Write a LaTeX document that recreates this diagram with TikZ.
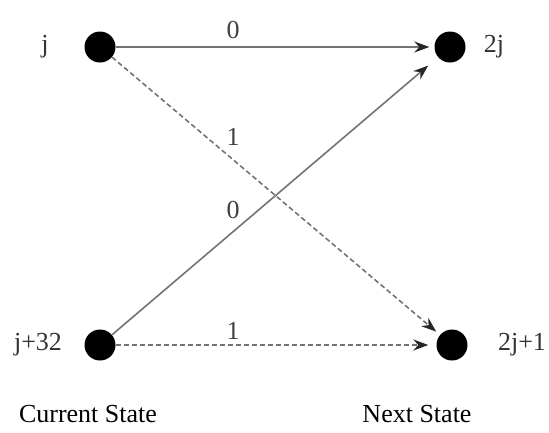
\documentclass[tikz,border=0pt]{standalone}
\usepackage{fontspec}
\setmainfont{Liberation Serif}
\usetikzlibrary{arrows.meta}
\begin{document}
\begin{tikzpicture}[x=1pt,y=-1pt,
  dot/.style={circle,fill=black,inner sep=0pt,minimum size=31pt},
  lbl/.style={font=\fontsize{26}{28}\selectfont,text=black!80,inner sep=0pt},
  elbl/.style={font=\fontsize{26}{28}\selectfont,text=black!75,inner sep=0pt},
  captiontext/.style={font=\fontsize{26}{30}\selectfont,inner sep=0pt},
  solidedge/.style={draw=black!55,line width=1.6pt,-{Stealth[length=15pt,width=11pt,inset=5pt,black!85]},shorten >=5pt},
  dashedge/.style={draw=black!55,line width=1.6pt,dash pattern=on 5pt off 3pt,-{Stealth[length=15pt,width=11pt,inset=5pt,black!85]},shorten >=5pt}]
\useasboundingbox (0,0) rectangle (549,432);
\node[dot] (j) at (100,47) {};
\node[dot] (tj) at (450,47) {};
\node[dot] (jp) at (100,345) {};
\node[dot] (tjp) at (452,345) {};
\node[lbl] (lj) at (45,47) {j};
\node[lbl] (ltj) at (494,47) {2j};
\node[lbl] (ljp) at (38,345) {j+32};
\node[lbl] (ltjp) at (522,345) {2j+1};
\draw[solidedge] (j) -- (tj);
\draw[dashedge] (j) -- (tjp);
\draw[solidedge,shorten >=13pt] (jp) -- (tj);
\draw[dashedge,shorten >=8pt] (jp) -- (tjp);
\node[elbl] (e1) at (233,30) {0};
\node[elbl] (e2) at (233,137) {1};
\node[elbl] (e3) at (233,210) {0};
\node[elbl] (e4) at (233,331) {1};
\node[captiontext] (cs) at (88,414) {Current State};
\node[captiontext] (ns) at (417,414) {Next State};
\end{tikzpicture}
\end{document}
